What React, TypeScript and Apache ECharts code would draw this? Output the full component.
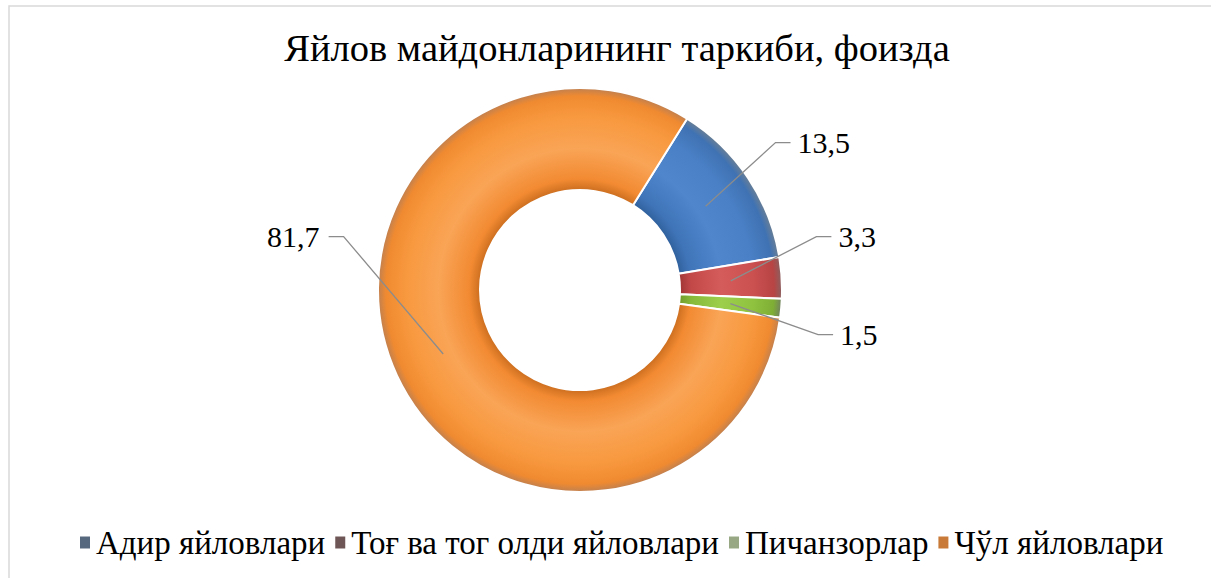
import React, { useEffect, useRef } from 'react';
import * as echarts from 'echarts';

const categories = ['Адир яйловлари', 'Тоғ ва тог олди яйловлари', 'Пичанзорлар', 'Чўл яйловлари'];
const values = [13.5, 3.3, 1.5, 81.7];
const valueLabels = ['13,5', '3,3', '1,5', '81,7'];
const titleText = 'Яйлов майдонларининг таркиби, фоизда';

const FONT = '"Liberation Serif", "DejaVu Serif", "Times New Roman", serif';
const CX = 580;
const CY = 290;
const R_IN = 100;
const R_OUT = 202;
const START = 32; // degrees clockwise from 12 o'clock
const LABEL_ANGLES = [55, 78, 100, 282];
const LABEL_R = 257;
const ELBOW = 15;

const sliceStops: [number, string][][] = [
  [[0, '#2f5f9a'], [0.49, '#2f5f9a'], [0.55, '#3f74b8'], [0.7, '#4f86cc'], [0.86, '#4a80c6'], [0.96, '#3f72b3'], [1, '#6a7f95']],
  [[0, '#9e3434'], [0.49, '#9e3434'], [0.55, '#c24848'], [0.7, '#d45c5a'], [0.86, '#cb5050'], [0.96, '#b84444'], [1, '#8a6060']],
  [[0, '#6f9a2a'], [0.49, '#6f9a2a'], [0.55, '#86b83a'], [0.7, '#9dcf4c'], [0.86, '#8fc23f'], [0.96, '#7fae35'], [1, '#708060']],
  [[0, '#c0651a'], [0.49, '#c86c1e'], [0.55, '#f28a32'], [0.7, '#f9a456'], [0.86, '#f8993f'], [0.96, '#f08a30'], [1, '#c08050']],
];
const legendColors = ['#56687e', '#6e5656', '#98a884', '#c97a38'];

export default function App() {
  const ref = useRef<HTMLDivElement>(null);
  useEffect(() => {
    if (!ref.current) return;
    const chart = echarts.init(ref.current, null, { renderer: 'svg' });
    const total = values.reduce((a, b) => a + b, 0);
    const mids: number[] = [];
    let cum = 0;
    values.forEach((v) => {
      mids.push(START + (360 * (cum + v / 2)) / total);
      cum += v;
    });
    const RM = (R_IN + R_OUT) / 2;

    const common = {
      type: 'pie',
      center: [CX, CY],
      radius: [R_IN, R_OUT],
      startAngle: 90 - START,
      clockwise: true,
      avoidLabelOverlap: false,
      emphasis: { disabled: true },
      silent: true,
    };

    chart.setOption({
      animation: false,
      backgroundColor: '#ffffff',
      title: {
        text: titleText,
        left: 612,
        textAlign: 'center',
        top: 23,
        textStyle: { fontFamily: FONT, fontSize: 38.5, fontWeight: 'normal', color: '#000' },
      },
      legend: {
        left: 73,
        top: 521,
        itemWidth: 12,
        itemHeight: 14,
        itemGap: 8,
        icon: 'rect',
        textStyle: { fontFamily: FONT, fontSize: 33, color: '#000' },
        data: categories.map((c, i) => ({ name: c, itemStyle: { color: legendColors[i] } })),
      },
      graphic: [
        {
          type: 'rect',
          shape: { x: 9, y: 6, width: 1230, height: 600 },
          style: { fill: 'none', stroke: '#d9d9d9', lineWidth: 1.5 },
          silent: true,
        },
      ],
      series: [
        {
          ...common,
          name: 'rings',
          z: 2,
          itemStyle: { borderColor: '#ffffff', borderWidth: 2 },
          label: { show: false },
          labelLine: { show: false },
          data: categories.map((c, i) => ({
            name: c,
            value: values[i],
            itemStyle: {
              color: new echarts.graphic.RadialGradient(
                CX,
                CY,
                R_OUT,
                sliceStops[i].map(([o, col]) => ({ offset: o, color: col })),
                true
              ),
            },
          })),
        },
        {
          ...common,
          name: 'labels',
          z: 5,
          itemStyle: { color: 'rgba(0,0,0,0)', borderWidth: 0 },
          label: {
            show: true,
            position: 'outside',
            formatter: (p: any) => valueLabels[p.dataIndex],
            fontFamily: FONT,
            fontSize: 30,
            color: '#000',
          },
          labelLine: { show: true, showAbove: true, lineStyle: { color: '#8c8c8c', width: 1.3 } },
          labelLayout: (p: any) => {
            const i = p.dataIndex;
            const a = (LABEL_ANGLES[i] * Math.PI) / 180;
            const ex = CX + LABEL_R * Math.sin(a);
            const ey = CY - LABEL_R * Math.cos(a);
            const right = ex > CX;
            const bx = right ? ex - ELBOW : ex + ELBOW;
            const m = (mids[i] * Math.PI) / 180;
            const sx = CX + RM * Math.sin(m);
            const sy = CY - RM * Math.cos(m);
            return {
              x: right ? ex + 7 : ex - 9,
              y: ey,
              align: right ? 'left' : 'right',
              verticalAlign: 'middle',
              labelLinePoints: [[sx, sy], [bx, ey], [ex, ey]],
            };
          },
          data: categories.map((c, i) => ({ name: c, value: values[i] })),
        },
      ],
    });
    return () => chart.dispose();
  }, []);
  return (
    <div
      ref={ref}
      style={{ position: 'absolute', left: 0, top: 0, width: 1211, height: 578, background: '#fff' }}
    />
  );
}
